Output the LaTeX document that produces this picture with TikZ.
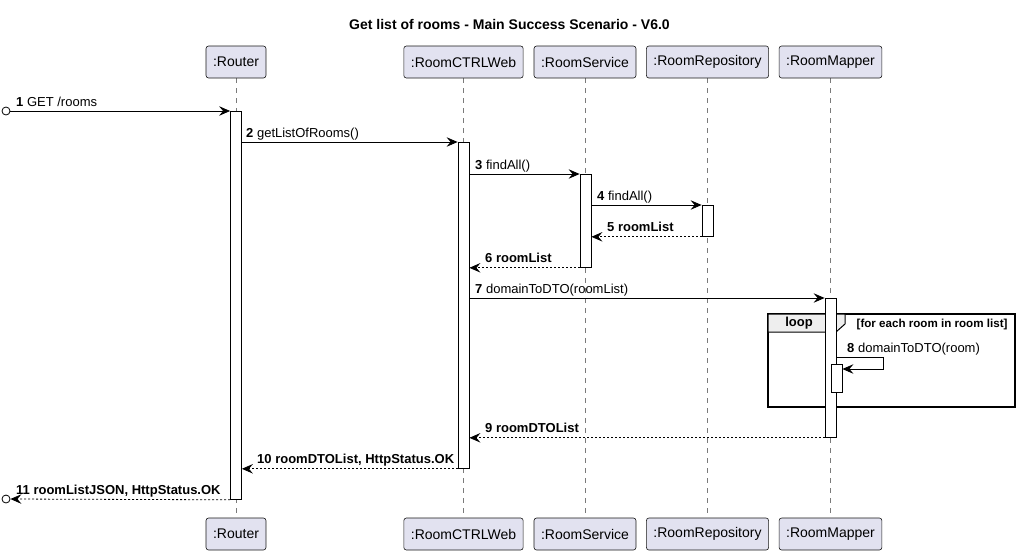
\documentclass[tikz,border=0pt]{standalone}
\usepackage{fontspec}
\setmainfont{Liberation Sans}
\usetikzlibrary{arrows.meta,positioning,calc}
\definecolor{partfill}{HTML}{E2E2F0}
\definecolor{partline}{HTML}{181818}
\definecolor{lifegray}{HTML}{7A7A7A}
\definecolor{tabgray}{HTML}{EEEEEE}

\begin{document}
\begin{tikzpicture}[x=1pt,y=-1pt,
    part/.style={draw=partline, fill=partfill, rounded corners=2.5pt, minimum height=32pt,
        inner xsep=7pt, line width=0.6pt, font=\fontsize{14}{16}\selectfont},
    act/.style={draw=black, fill=white, minimum width=11pt, inner sep=0pt, line width=0.8pt, anchor=north},
    msg/.style={-{Stealth[length=11pt,width=9.5pt,inset=4pt]}, line width=0.8pt},
    ret/.style={msg, dash pattern=on 2pt off 2pt},
    lbl/.style={anchor=base west, inner sep=0pt, font=\fontsize{13}{15}\selectfont},
    life/.style={draw=lifegray, dash pattern=on 5pt off 5pt, line width=0.6pt}]
    \useasboundingbox (0,0) rectangle (1019,555);

    % Title
    \node[font=\bfseries\fontsize{14}{16}\selectfont] (title) at (509.5,24) {Get list of rooms - Main Success Scenario - V6.0};

    % Participants and lifelines
    \foreach \n/\x/\t in {r/236/Router, c/463.5/RoomCTRLWeb, s/585/RoomService, p/707.5/RoomRepository, m/830.5/RoomMapper} {
        \draw[life] (\x,78) -- (\x,518);
        \node[part] (\n top) at (\x,62) {:\t};
        \node[part] (\n bot) at (\x,534) {:\t};
    }

    % Loop frame
    \draw[line width=1.5pt] (768,314) rectangle (1015,407);
    \draw[fill=tabgray, line width=1pt] (768,314) -- (845,314) -- (845,324) -- (836,332) -- (768,332) -- cycle;
    \node[font=\bfseries\fontsize{13}{15}\selectfont] (looptag) at (799,323.5) {loop};
    \node[anchor=east, font=\bfseries\fontsize{11.6}{13}\selectfont] (loopcond) at (1011,324) {[for each room in room list]};

    % Activations
    \node[act, minimum height=388pt] (ra) at (236,111) {};
    \node[act, minimum height=326pt] (ca) at (463.5,142) {};
    \node[act, minimum height=93pt] (sa) at (585.5,174) {};
    \node[act, minimum height=31pt] (pa) at (707.5,205) {};
    \node[act, minimum height=139pt] (ma) at (830.5,298) {};
    \node[act, minimum height=28pt] (na) at (836.5,364) {};

    % Outside endpoints
    \node[circle, draw, fill=white, minimum size=8pt, inner sep=0pt, line width=0.8pt] (inport) at (6,111) {};
    \node[circle, draw, fill=white, minimum size=8pt, inner sep=0pt, line width=0.8pt] (outport) at (6,499) {};

    % Messages
    \draw[msg] (inport.east) -- (ra.north west);
    \node[lbl] (l1) at (16,106) {\textbf{1} GET /rooms};
    \draw[msg] (ra.east |- ca.north) -- (ca.north west);
    \node[lbl] (l2) at (246,137) {\textbf{2} getListOfRooms()};
    \draw[msg] (ca.east |- sa.north) -- (sa.north west);
    \node[lbl] (l3) at (475,169) {\textbf{3} findAll()};
    \draw[msg] (sa.east |- pa.north) -- (pa.north west);
    \node[lbl] (l4) at (597,200) {\textbf{4} findAll()};
    \draw[ret] (pa.south west) -- (sa.east |- pa.south);
    \node[lbl, font=\bfseries\fontsize{13}{15}\selectfont] (l5) at (607,231) {5 roomList};
    \draw[ret] (sa.south west) -- (ca.east |- sa.south);
    \node[lbl, font=\bfseries\fontsize{13}{15}\selectfont] (l6) at (485,262) {6 roomList};
    \draw[msg] (ca.east |- ma.north) -- (ma.north west);
    \node[lbl] (l7) at (475,293) {\textbf{7} domainToDTO(roomList)};
    \draw[msg] (ma.east |- 0,357) -| ++(47,12) -- (na.east |- 0,369);
    \node[lbl] (l8) at (847,352) {\textbf{8} domainToDTO(room)};
    \draw[ret] (ma.south west) -- (ca.east |- ma.south);
    \node[lbl, font=\bfseries\fontsize{13}{15}\selectfont] (l9) at (485,432) {9 roomDTOList};
    \draw[ret] (ca.south west) -- (ra.east |- ca.south);
    \node[lbl, font=\bfseries\fontsize{13}{15}\selectfont] (l10) at (257,463) {10 roomDTOList, HttpStatus.OK};
    \draw[ret] (ra.south west) -- (outport.east);
    \node[lbl, font=\bfseries\fontsize{13}{15}\selectfont] (l11) at (16,494) {11 roomListJSON, HttpStatus.OK};
\end{tikzpicture}
\end{document}
